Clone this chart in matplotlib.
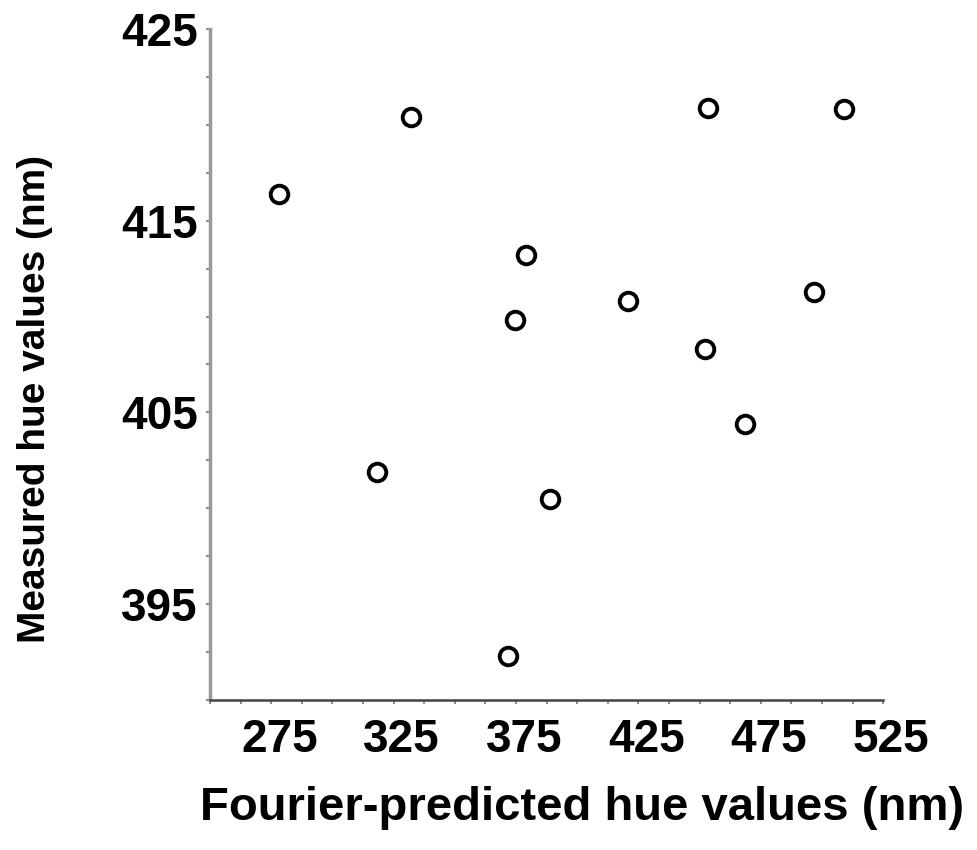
import matplotlib
matplotlib.use("Agg")
import matplotlib.pyplot as plt
import matplotlib.transforms as mtransforms
from matplotlib.ticker import MultipleLocator

# Fourier-predicted vs measured hue (nm)
predicted = [278.2, 332.1, 318.2, 379.1, 374.6, 388.9, 371.8,
             420.8, 453.5, 452.3, 468.6, 496.8, 509.1]
measured = [416.4, 420.4, 401.9, 413.2, 409.8, 400.5, 392.3,
            410.8, 420.9, 408.3, 404.4, 411.3, 420.8]

x_ticks = [275, 325, 375, 425, 475, 525]
y_ticks = [395, 405, 415, 425]

plt.rcParams["font.family"] = ["Liberation Sans", "DejaVu Sans"]
plt.rcParams["font.weight"] = "bold"

fig = plt.figure(figsize=(9.77, 8.5), dpi=100)
ax = fig.add_axes([0.215, 0.1765, 0.689, 0.7895])

ax.scatter(predicted, measured, s=160, facecolors="white",
           edgecolors="black", linewidths=2.8, zorder=3)

ax.set_xlim(250, 525)
ax.set_ylim(390, 425)
ax.set_xticks(x_ticks)
ax.set_yticks(y_ticks)
ax.xaxis.set_minor_locator(MultipleLocator(12.5))
ax.yaxis.set_minor_locator(MultipleLocator(2.5))

for side in ["top", "right"]:
    ax.spines[side].set_visible(False)
ax.spines["left"].set_color("#9a9a9a")
ax.spines["left"].set_linewidth(2.5)
ax.spines["bottom"].set_color("#444444")
ax.spines["bottom"].set_linewidth(1.8)

ax.tick_params(which="both", direction="out", length=3, width=1.2, color="#777777")
ax.tick_params(axis="x", which="major", labelsize=33, pad=10)
ax.tick_params(axis="y", which="major", labelsize=33, pad=6)

# labels in the original sit a little right of their ticks
shift = mtransforms.ScaledTranslation(8 / 100, 0, fig.dpi_scale_trans)
for lab in ax.get_xticklabels():
    lab.set_fontweight("bold")
    lab.set_transform(lab.get_transform() + shift)
for lab in ax.get_yticklabels():
    lab.set_fontweight("bold")

ax.set_xlabel("Fourier-predicted hue values (nm)", fontsize=34,
              fontweight="bold", va="center")
ax.xaxis.set_label_coords(0.553, -0.161)
ax.set_ylabel("Measured hue values (nm)", fontsize=28,
              fontweight="bold", va="center")
ax.yaxis.set_label_coords(-0.26, 0.449)

plt.savefig("out.png", dpi=100)
plt.close(fig)
